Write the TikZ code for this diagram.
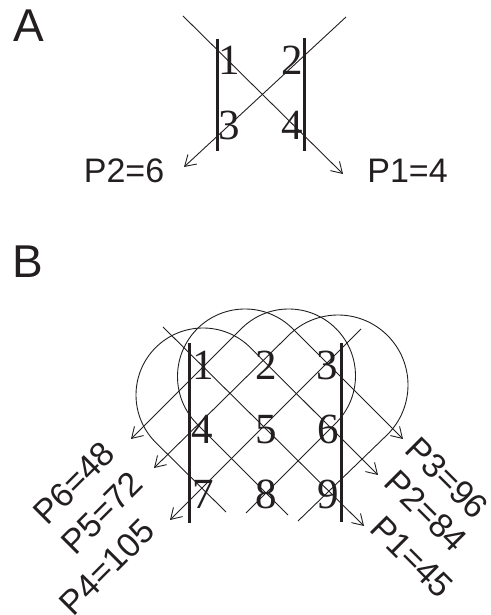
\documentclass[tikz,border=0pt]{standalone}
\usepackage{fontspec}
\setmainfont{Liberation Serif}
\newfontfamily\labelfont{Liberation Sans}
\usetikzlibrary{arrows.meta,calc}
\definecolor{ink}{HTML}{231F20}

\begin{document}
\begin{tikzpicture}[x=1pt,y=1pt,
  every node/.style={text=ink},
  cell/.style={inner sep=0pt, font=\fontsize{43}{43}\selectfont},
  plabel/.style={inner sep=0pt, font=\labelfont\fontsize{34}{34}\selectfont},
  panel/.style={inner sep=0pt, font=\labelfont\fontsize{46}{46}\selectfont},
  bar/.style={draw=ink, line width=3pt},
  trace/.style={draw=ink, line width=0.9pt},
  ptr/.style={trace, -{Straight Barb[length=10.5pt,width=13pt]}},
]
\useasboundingbox (0,0) rectangle (490,615);

% ---------------- panel A: 2x2 determinant ----------------
\node[panel] (labA) at (29,589) {A};

\coordinate (aLt) at (217,576); \coordinate (aLb) at (217,464);
\coordinate (aRt) at (304,577); \coordinate (aRb) at (304,464);
\draw[bar] (aLt) -- (aLb);
\draw[bar] (aRt) -- (aRb);

\node[cell] (a1) at (229.5,555) {1};
\node[cell] (a2) at (292,555)   {2};
\node[cell] (a3) at (229.5,490) {3};
\node[cell] (a4) at (292,490)   {4};

\coordinate (aDs) at (183,599); \coordinate (aDe) at (343,441);
\coordinate (aUs) at (346,598); \coordinate (aUe) at (184,448);
\draw[ptr] (aDs) -- (aDe);
\draw[ptr] (aUs) -- (aUe);

\node[plabel] (pa2) at (124,444.5) {P2=6};
\node[plabel] (pa1) at (407.5,444) {P1=4};

% ---------------- panel B: 3x3 determinant ----------------
\node[panel] (labB) at (27.5,353) {B};

\coordinate (bLt) at (189,272); \coordinate (bLb) at (189,92);
\coordinate (bRt) at (341,272); \coordinate (bRb) at (341,93);
\draw[bar] (bLt) -- (bLb);
\draw[bar] (bRt) -- (bRb);

\node[cell] (b1) at (203.5,250)   {1};
\node[cell] (b2) at (266,250)     {2};
\node[cell] (b3) at (327.5,250)   {3};
\node[cell] (b4) at (202.5,185.5) {4};
\node[cell] (b5) at (266.5,185.5) {5};
\node[cell] (b6) at (328,185.5)   {6};
\node[cell] (b7) at (203.5,121)   {7};
\node[cell] (b8) at (266,121)     {8};
\node[cell] (b9) at (328,121)     {9};

% centres of the wrap-around loops
\coordinate (cA) at (203,220);
\coordinate (cB) at (245,238.5);
\coordinate (cC) at (288.7,239.2);
\coordinate (cD) at (338,230);

% down-right products
\coordinate (p1s) at (163,288); \coordinate (p1e) at (364,89);
\draw[ptr] (p1s) -- (p1e);

\coordinate (p2s) at (226,103); \coordinate (p2e) at (378,140);
\draw[ptr] (p2s) -- ($(cA)+(225:67pt)$)
  arc[start angle=225, end angle=45, radius=67pt] -- (p2e);

\coordinate (p3s) at (288,100); \coordinate (p3e) at (403,176);
\draw[ptr] (p3s) -- ($(cB)+(225:67.5pt)$)
  arc[start angle=225, end angle=45, radius=67.5pt] -- (p3e);

% down-left products
\coordinate (p4s) at (361,286); \coordinate (p4e) at (170,95);
\draw[ptr] (p4s) -- (p4e);

\coordinate (p5s) at (298,94); \coordinate (p5e) at (154,147);
\draw[ptr] (p5s) -- ($(cD)+(-45:70pt)$)
  arc[start angle=-45, end angle=135, radius=70pt] -- (p5e);

\coordinate (p6s) at (246,102); \coordinate (p6e) at (131,176);
\draw[ptr] (p6s) -- ($(cC)+(-45:66.8pt)$)
  arc[start angle=-45, end angle=135, radius=66.8pt] -- (p6e);

% product labels
\node[plabel, rotate=45]  (pb6) at (74,132)  {P6=48};
\node[plabel, rotate=45]  (pb5) at (102,102) {P5=72};
\node[plabel, rotate=45]  (pb4) at (107,48)  {P4=105};
\node[plabel, rotate=-45] (pb3) at (447,137) {P3=96};
\node[plabel, rotate=-45] (pb2) at (426,104) {P2=84};
\node[plabel, rotate=-45] (pb1) at (412,58)  {P1=45};
\end{tikzpicture}
\end{document}
